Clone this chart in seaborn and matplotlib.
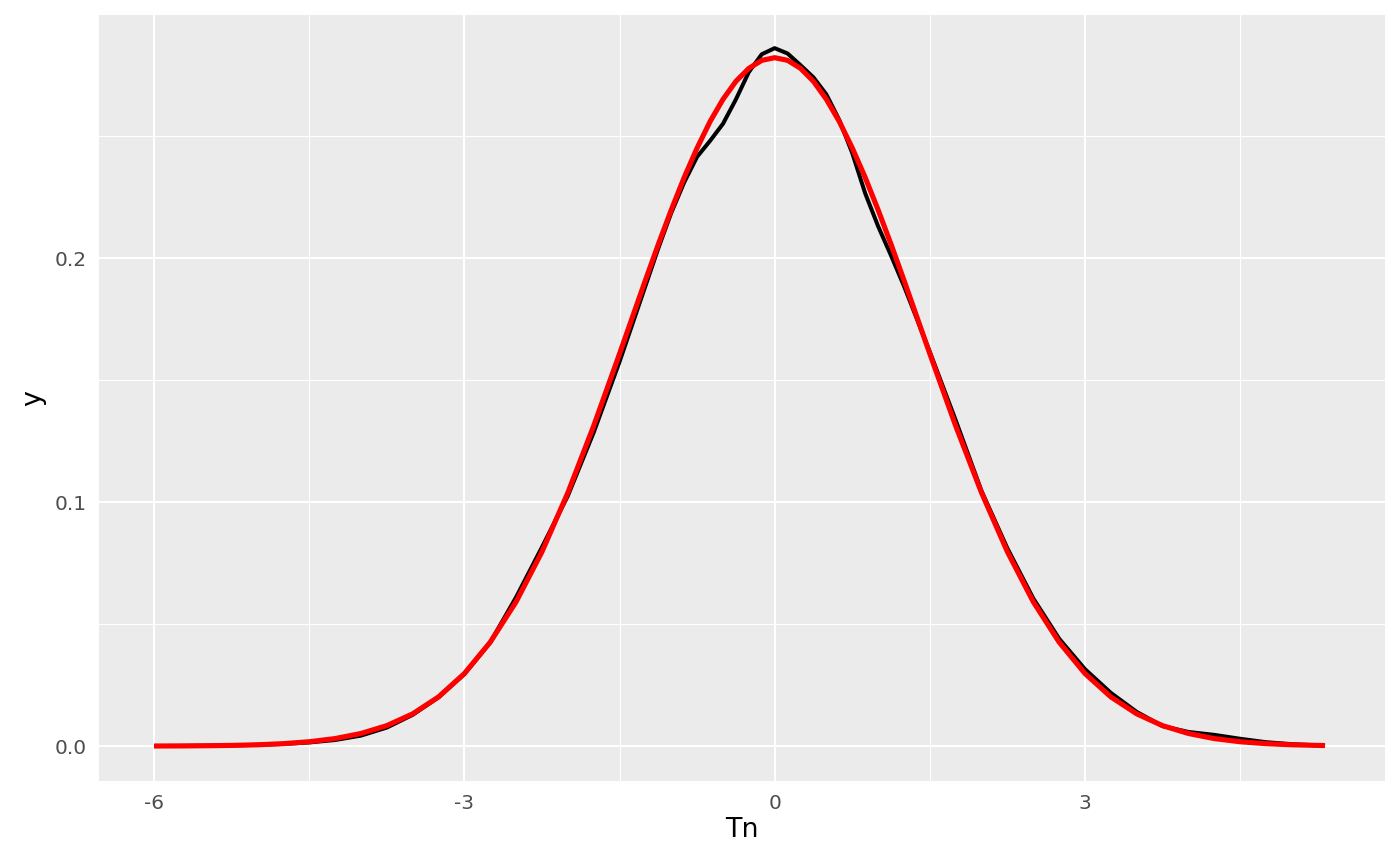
import numpy as np
import pandas as pd
import matplotlib
matplotlib.use("Agg")
import matplotlib.pyplot as plt
import seaborn as sns

# grid of Tn values (finer near the peak)
tn = [-6.0, -5.75, -5.5, -5.25, -5.0, -4.75, -4.5, -4.25, -4.0, -3.75,
      -3.5, -3.25, -3.0, -2.75, -2.5, -2.25, -2.0, -1.75, -1.5, -1.375,
      -1.25, -1.125, -1.0, -0.875, -0.75, -0.625, -0.5, -0.375, -0.25, -0.125,
      0.0, 0.125, 0.25, 0.375, 0.5, 0.625, 0.75, 0.875, 1.0, 1.125,
      1.25, 1.375, 1.5, 1.75, 2.0, 2.25, 2.5, 2.75, 3.0, 3.25,
      3.5, 3.75, 4.0, 4.25, 4.5, 4.75, 5.0, 5.25, 5.32]

# empirical density (black)
dens_emp = [0.00004, 0.00008, 0.00016, 0.00030, 0.00052, 0.00090, 0.00150, 0.00250, 0.00430, 0.00760,
            0.01280, 0.02000, 0.02950, 0.04250, 0.06100, 0.08150, 0.10250, 0.12850, 0.15750, 0.17300,
            0.18850, 0.20400, 0.21850, 0.23100, 0.24150, 0.24800, 0.25500, 0.26500, 0.27620, 0.28350,
            0.28600, 0.28380, 0.27900, 0.27400, 0.26700, 0.25650, 0.24300, 0.22650, 0.21300, 0.20100,
            0.18850, 0.17500, 0.16150, 0.13350, 0.10450, 0.08100, 0.06050, 0.04400, 0.03150, 0.02180,
            0.01400, 0.00820, 0.00580, 0.00460, 0.00300, 0.00160, 0.00080, 0.00030, 0.00020]

# reference normal density (red)
dens_ref = [0.00004, 0.00007, 0.00015, 0.00029, 0.00054, 0.00100, 0.00179, 0.00308, 0.00517, 0.00838,
            0.01321, 0.02015, 0.02973, 0.04258, 0.05912, 0.07960, 0.10378, 0.13118, 0.16073, 0.17580,
            0.19086, 0.20560, 0.21970, 0.23300, 0.24509, 0.25590, 0.26502, 0.27240, 0.27772, 0.28100,
            0.28209, 0.28100, 0.27772, 0.27240, 0.26502, 0.25590, 0.24509, 0.23300, 0.21970, 0.20560,
            0.19086, 0.17580, 0.16073, 0.13118, 0.10378, 0.07960, 0.05912, 0.04258, 0.02973, 0.02015,
            0.01321, 0.00838, 0.00517, 0.00308, 0.00179, 0.00100, 0.00054, 0.00029, 0.00024]

x_ticks = [-6, -3, 0, 3]
x_labels = ["-6", "-3", "0", "3"]
y_ticks = [0.0, 0.1, 0.2]
y_labels = ["0.0", "0.1", "0.2"]

df = pd.DataFrame({"Tn": tn, "emp": dens_emp, "ref": dens_ref})

sns.set_style("darkgrid", {"axes.facecolor": "#EBEBEB", "grid.color": "white"})
plt.rcParams["font.family"] = ["DejaVu Sans"]

fig = plt.figure(figsize=(14, 8.65), dpi=100)
ax = fig.add_axes([0.0707, 0.0971, 0.9186, 0.8856])

line_kw = dict(sort=False, estimator=None, ax=ax,
               solid_joinstyle="round", solid_capstyle="butt")
sns.lineplot(data=df, x="Tn", y="emp", color="black", linewidth=2.9, **line_kw)
sns.lineplot(data=df, x="Tn", y="ref", color="red", linewidth=3.7, **line_kw)

ax.set_xlim(-6.532, 5.90)
ax.set_ylim(-0.0143, 0.2996)

ax.set_xticks(x_ticks)
ax.set_xticklabels(x_labels)
ax.set_yticks(y_ticks)
ax.set_yticklabels(y_labels)
ax.set_xticks([-4.5, -1.5, 1.5, 4.5], minor=True)
ax.set_yticks([0.05, 0.15, 0.25], minor=True)

ax.grid(which="major", color="white", linewidth=1.5)
ax.grid(which="minor", color="white", linewidth=0.75)
ax.tick_params(which="major", length=4.85, width=1.3, color="#333333",
               labelcolor="#4D4D4D", labelsize=14.5, pad=4.3)
ax.tick_params(which="minor", length=0)
for s in ax.spines.values():
    s.set_visible(False)

ax.set_xlabel("Tn", fontsize=19.4, color="black", labelpad=3)
ax.set_ylabel("y", fontsize=19.4, color="black", labelpad=6)

fig.savefig("out.png", dpi=100)
